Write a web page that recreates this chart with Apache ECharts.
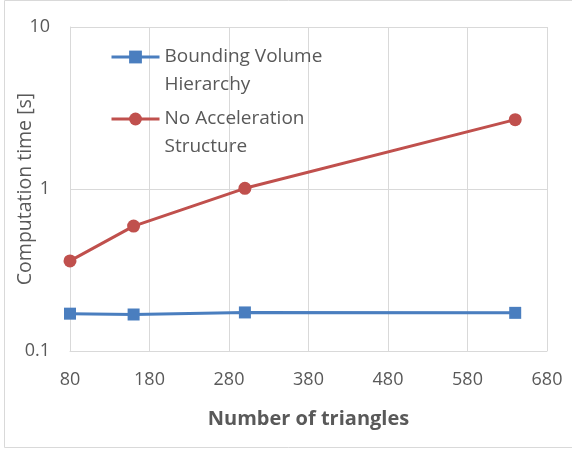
<!DOCTYPE html>
<html>
<head>
<meta charset="utf-8">
<script src="https://cdn.jsdelivr.net/npm/echarts@6/dist/echarts.min.js"></script>
<style>
html,body{margin:0;padding:0;background:#fff;}
#chart{width:572px;height:450px;}
</style>
</head>
<body>
<div id="chart"></div>
<script>
const triangles = [80, 160, 300, 640];
const bvhTimes = [0.170, 0.168, 0.173, 0.172];
const noAccelTimes = [0.36, 0.59, 1.01, 2.68];
const seriesNames = ['Bounding Volume\nHierarchy', 'No Acceleration\nStructure'];
const xTitle = 'Number of triangles';
const yTitle = 'Computation time [s]';

const FONT = 'Open Sans';
const TXT = '#595959';
const GRID = '#d9d9d9';
const LH = 28;

const chart = echarts.init(document.getElementById('chart'));
function pairs(xs, ys){ return xs.map((x,i)=>[x, ys[i]]); }

const legendCommon = {
  left: 110,
  orient: 'vertical',
  padding: 0,
  itemWidth: 48,
  itemHeight: 16,
  lineStyle: { width: 3 },
  formatter: function(name){ return '\n' + name; },
  textStyle: { fontFamily: FONT, fontSize: 19, color: TXT, lineHeight: LH },
};

chart.setOption({
  animation: false,
  textStyle: { fontFamily: FONT },
  graphic: [{
    type: 'rect', silent: true, z: -1,
    shape: { x: 4.5, y: 0.5, width: 580, height: 447 },
    style: { fill: 'none', stroke: GRID, lineWidth: 1 }
  }],
  legend: [
    Object.assign({}, legendCommon, { top: 15, data: [seriesNames[0]] }),
    Object.assign({}, legendCommon, { top: 77, data: [seriesNames[1]] })
  ],
  grid: { left: 70, right: 25, top: 27, bottom: 99 },
  xAxis: {
    type: 'value', min: 80, max: 680, interval: 100,
    name: xTitle, nameLocation: 'middle', nameGap: 58, nameMoveOverlap: false,
    nameTextStyle: { fontFamily: FONT, fontSize: 20, fontWeight: 'bold', color: TXT },
    axisLine: { show: true, lineStyle: { color: GRID, width: 1 } },
    axisTick: { show: false },
    axisLabel: { fontFamily: FONT, fontSize: 18, color: TXT, margin: 20 },
    splitLine: { show: true, lineStyle: { color: GRID, width: 1 } }
  },
  yAxis: {
    type: 'log', logBase: 10, min: 0.1, max: 10,
    name: yTitle, nameLocation: 'middle', nameGap: 35, nameMoveOverlap: false,
    nameTextStyle: { fontFamily: FONT, fontSize: 19.5, color: TXT },
    axisLine: { show: true, lineStyle: { color: GRID, width: 1 } },
    axisTick: { show: false },
    axisLabel: { fontFamily: FONT, fontSize: 18, color: TXT, margin: 20 },
    splitLine: { show: true, lineStyle: { color: GRID, width: 1 } },
    minorSplitLine: { show: false }
  },
  series: [
    {
      name: seriesNames[0], type: 'line', data: pairs(triangles, bvhTimes),
      symbol: 'rect', symbolSize: 12,
      lineStyle: { color: '#4a7ebf', width: 3 },
      itemStyle: { color: '#4a7ebf' }
    },
    {
      name: seriesNames[1], type: 'line', data: pairs(triangles, noAccelTimes),
      symbol: 'circle', symbolSize: 13,
      lineStyle: { color: '#c0504d', width: 3 },
      itemStyle: { color: '#c0504d' }
    }
  ]
});
</script>
</body>
</html>
